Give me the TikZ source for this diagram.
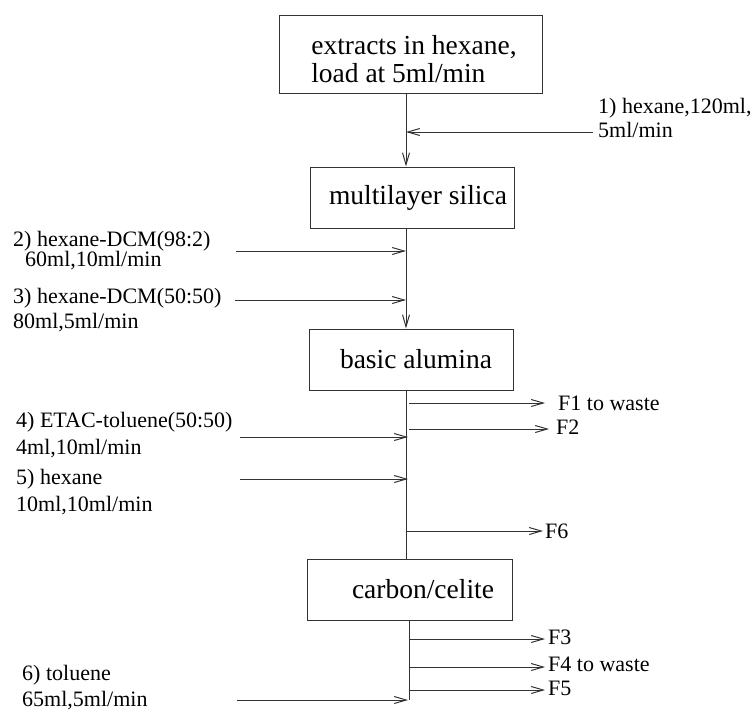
\documentclass[tikz,border=0pt]{standalone}
\usepackage{fontspec}
\setmainfont{Liberation Serif}
\usetikzlibrary{arrows.meta}
\begin{document}
\begin{tikzpicture}[x=1pt,y=-1pt,
  ln/.style={draw=black!80, line width=1pt},
  arr/.style={ln, -{Straight Barb[length=12pt,width=7pt]}},
  box/.style={draw=black!80, line width=1pt, inner sep=0pt, font=\fontsize{27.5}{28}\selectfont, align=center},
  lbl/.style={anchor=north west, inner sep=0pt, align=left, font=\fontsize{22}{24}\selectfont},
  flbl/.style={anchor=west, inner sep=0pt, font=\fontsize{22}{24}\selectfont}]
\useasboundingbox (0,0) rectangle (755,713);

% boxes
\node[box, minimum width=263pt, minimum height=78pt, align=left] (top) at (410.5,54)
  {\rule{0pt}{28.8pt}\hspace*{7pt}extracts in hexane,\\\hspace*{7pt}load at 5ml/min};
\node[box, minimum width=204pt, minimum height=61pt] (ml) at (412,197.5) {\hspace*{12pt}multilayer silica};
\node[box, minimum width=204pt, minimum height=61pt] (ba) at (411,359.5) {\hspace*{10pt}basic alumina};
\node[box, minimum width=205pt, minimum height=61pt] (cc) at (409.5,589.5) {\hspace*{27pt}carbon/celite};

% trunk positions
\coordinate (v) at (406,0);
\coordinate (w) at (409,0);

% input labels
\node[lbl] (l1) at (598,98) {1) hexane,120ml,\\5ml/min};
\node[lbl] (l2) at (13,231) {2) hexane-DCM(98:2)\\[-4pt]\hspace*{12pt}60ml,10ml/min};
\node[lbl] (l3) at (13,288.5) {3) hexane-DCM(50:50)\\[1pt]80ml,5ml/min};
\node[lbl] (l4) at (16,412) {4) ETAC-toluene(50:50)\\[3pt]4ml,10ml/min};
\node[lbl] (l5) at (16,469) {5) hexane\\[3pt]10ml,10ml/min};
\node[lbl] (l6) at (22,665) {6) toluene\\[2pt]65ml,5ml/min};

% input arrow ends
\coordinate (s1) at (593,132); \coordinate (j1) at (406,132);
\coordinate (s2) at (236,251); \coordinate (j2) at (406,251);
\coordinate (s3) at (235,300); \coordinate (j3) at (406,300);
\coordinate (s4) at (240,437); \coordinate (j4) at (408,437);
\coordinate (s5) at (240,479); \coordinate (j5) at (408,479);
\coordinate (s6) at (237,700); \coordinate (j6) at (408,700);
\coordinate (b6) at (409,700);

% trunk
\draw[arr] (top.south -| v) -- (ml.north -| v);
\draw[arr] (ml.south -| v) -- (ba.north -| v);
\draw[ln] (ba.south -| v) -- (cc.north -| v);
\draw[ln] (cc.south -| w) -- (b6);

% inputs
\draw[arr] (s1) -- (j1);
\draw[arr] (s2) -- (j2);
\draw[arr] (s3) -- (j3);
\draw[arr] (s4) -- (j4);
\draw[arr] (s5) -- (j5);
\draw[arr] (s6) -- (j6);

% outputs
\coordinate (o1) at (409,403); \coordinate (e1) at (545,403);
\coordinate (o2) at (409,429); \coordinate (e2) at (549,429);
\coordinate (o6) at (406,531); \coordinate (e6) at (543,531);
\coordinate (o3) at (409,639); \coordinate (e3) at (545,639);
\coordinate (o4) at (409,667); \coordinate (e4) at (545,667);
\coordinate (o5) at (409,690); \coordinate (e5) at (545,690);

\node[flbl] (f1) at (558,403) {F1 to waste};
\node[flbl] (f2) at (556,427) {F2};
\node[flbl] (f6) at (545,531) {F6};
\node[flbl] (f3) at (548,637) {F3};
\node[flbl] (f4) at (548,664) {F4 to waste};
\node[flbl] (f5) at (548,688) {F5};

\draw[arr] (o1) -- (e1);
\draw[arr] (o2) -- (e2);
\draw[arr] (o6) -- (e6);
\draw[arr] (o3) -- (e3);
\draw[arr] (o4) -- (e4);
\draw[arr] (o5) -- (e5);
\end{tikzpicture}
\end{document}
